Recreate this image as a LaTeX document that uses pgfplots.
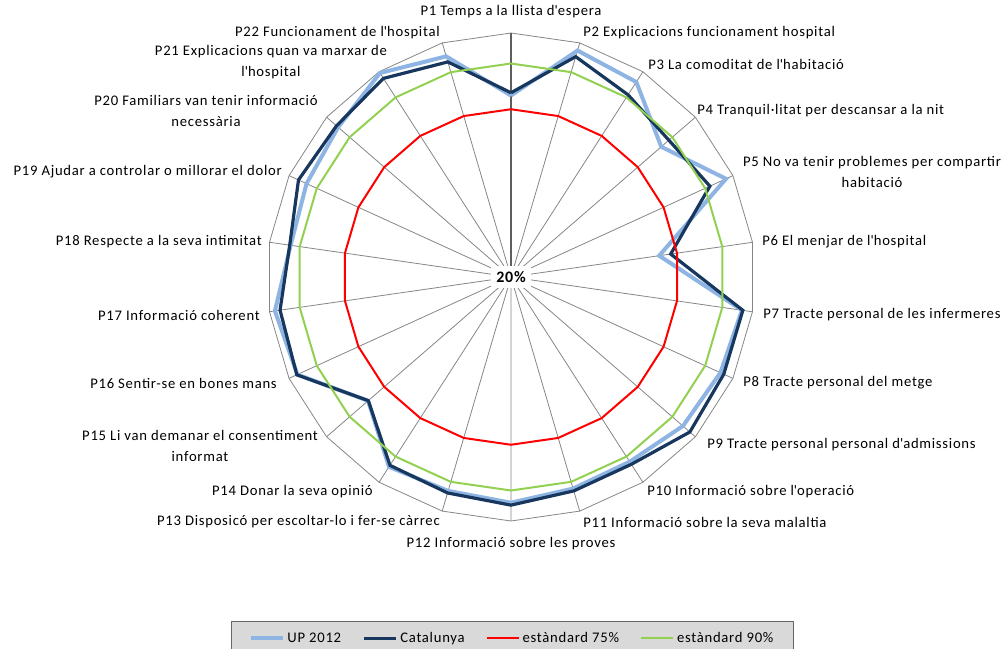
\documentclass[border=0pt]{standalone}
\usepackage{fontspec}
\setmainfont{Carlito}[LetterSpace=5]
\usepackage{pgfplots}
\usepackage{pgfplotstable}
\pgfplotsset{compat=1.18}
\usepgfplotslibrary{polar}

\definecolor{upblue}{RGB}{141,180,226}
\definecolor{catnavy}{RGB}{23,55,94}
\definecolor{stdgreen}{RGB}{146,208,80}
\definecolor{gridgray}{RGB}{134,134,134}
\newcommand\q{\textquotesingle}

% angle (deg, P1 on top, clockwise), UP 2012, Catalunya, standards, outer ring
\pgfplotstableread{
ang      up    cat   sa   sb   out
90       79.5  80.4  75   90   100
73.636   97.4  95.3  75   90   100
57.273   96.0  91.0  75   90   100
40.909   85.2  88.5  75   90   100
24.545   97.5  91.7  75   90   100
8.182    69.1  72.9  75   90   100
351.818  96.5  96.8  75   90   100
335.455  95.5  96.7  75   90   100
319.091  94.6  97.6  75   90   100
302.727  92.0  93.0  75   90   100
286.364  92.3  93.1  75   90   100
270      94.0  94.8  75   90   100
253.636  93.1  93.8  75   90   100
237.273  94.0  93.4  75   90   100
220.909  82.0  81.9  75   90   100
204.545  97.0  97.2  75   90   100
188.182  98.2  96.5  75   90   100
171.818  93.0  93.3  75   90   100
155.455  93.7  96.6  75   90   100
139.091  95.0  95.7  75   90   100
122.727  99.5  97.4  75   90   100
106.364  95.4  93.5  75   90   100
90       79.5  80.4  75   90   100
}\radar

\begin{document}
\begin{tikzpicture}[font=\fontsize{11}{15.5}\selectfont]
\begin{polaraxis}[
    at={(0,0)}, anchor=center,
    width=366pt, height=366pt, scale only axis,
    xmin=0, xmax=360,
    ymin=0, ymax=80,
    y filter/.expression={y-20},
    xtick={8.182,24.545,...,360},
    xticklabels={},
    ytick=\empty,
    major tick length=0pt,
    xmajorgrids,
    grid style={gridgray, line width=0.6pt},
    axis line style={draw=none},
    clip=false,
    legend columns=4,
    legend image code/.code={\draw[#1] (0pt,0pt) -- (24pt,0pt);},
    legend style={at={(0.503,-0.205)}, anchor=north,
        fill=black!15, draw=black!60, line width=0.8pt,
        inner xsep=13pt, inner ysep=6pt,
        /tikz/every even column/.append style={column sep=14pt}},
  ]
  \addplot[gridgray, line width=0.6pt, forget plot] table[x=ang, y=out] {\radar};
  \addplot[gridgray!70!black, line width=1pt, forget plot] coordinates {(90,20) (90,100)};
  \addplot[upblue, line width=3pt] table[x=ang, y=up] {\radar};
  \addplot[catnavy, line width=2.4pt] table[x=ang, y=cat] {\radar};
  \addplot[red, line width=1.5pt] table[x=ang, y=sa] {\radar};
  \addplot[stdgreen, line width=1.5pt] table[x=ang, y=sb] {\radar};
  \legend{UP 2012, Catalunya, estàndard 75\%, estàndard 90\%}
\end{polaraxis}

\node[fill=white, inner sep=4pt, font=\fontsize{12}{14}\selectfont\bfseries] at (0,0) {20\%};

\begin{scope}[x=0.75pt,y=-0.75pt,shift={(-511,-277)}, every node/.style={inner sep=0pt}]
  \node[anchor=center] at (511,12) {P1 Temps a la llista d\q espera};
  \node[anchor=west] at (583,33) {P2 Explicacions funcionament hospital};
  \node[anchor=west] at (648,64) {P3 La comoditat de l\q habitació};
  \node[anchor=west] at (697,111) {P4 Tranquil·litat per descansar a la nit};
  \node[anchor=center, align=center] at (872,172) {P5 No va tenir problemes per compartir\\habitació};
  \node[anchor=west] at (762,242) {P6 El menjar de l\q hospital};
  \node[anchor=west] at (763,315) {P7 Tracte personal de les infermeres};
  \node[anchor=west] at (743,383) {P8 Tracte personal del metge};
  \node[anchor=west] at (707,445) {P9 Tracte personal personal d\q admissions};
  \node[anchor=west] at (647,492) {P10 Informació sobre l\q operació};
  \node[anchor=west] at (583,522) {P11 Informació sobre la seva malaltia};
  \node[anchor=center] at (511,544) {P12 Informació sobre les proves};
  \node[anchor=east] at (440,522) {P13 Disposicó per escoltar-lo i fer-se càrrec};
  \node[anchor=east] at (373,492) {P14 Donar la seva opinió};
  \node[anchor=center, align=center] at (200,446) {P15 Li van demanar el consentiment\\informat};
  \node[anchor=east] at (277,383) {P16 Sentir-se en bones mans};
  \node[anchor=east] at (260,315) {P17 Informació coherent};
  \node[anchor=east] at (262,242) {P18 Respecte a la seva intimitat};
  \node[anchor=east] at (282,172) {P19 Ajudar a controlar o millorar el dolor};
  \node[anchor=center, align=center] at (206,111) {P20 Familiars van tenir informació\\necessària};
  \node[anchor=center, align=center] at (271,62) {P21 Explicacions quan va marxar de\\l\q hospital};
  \node[anchor=east] at (440,33) {P22 Funcionament de l\q hospital};
  \pgfresetboundingbox
  \path[use as bounding box] (0,0) rectangle (1007,649);
\end{scope}
\end{tikzpicture}
\end{document}
